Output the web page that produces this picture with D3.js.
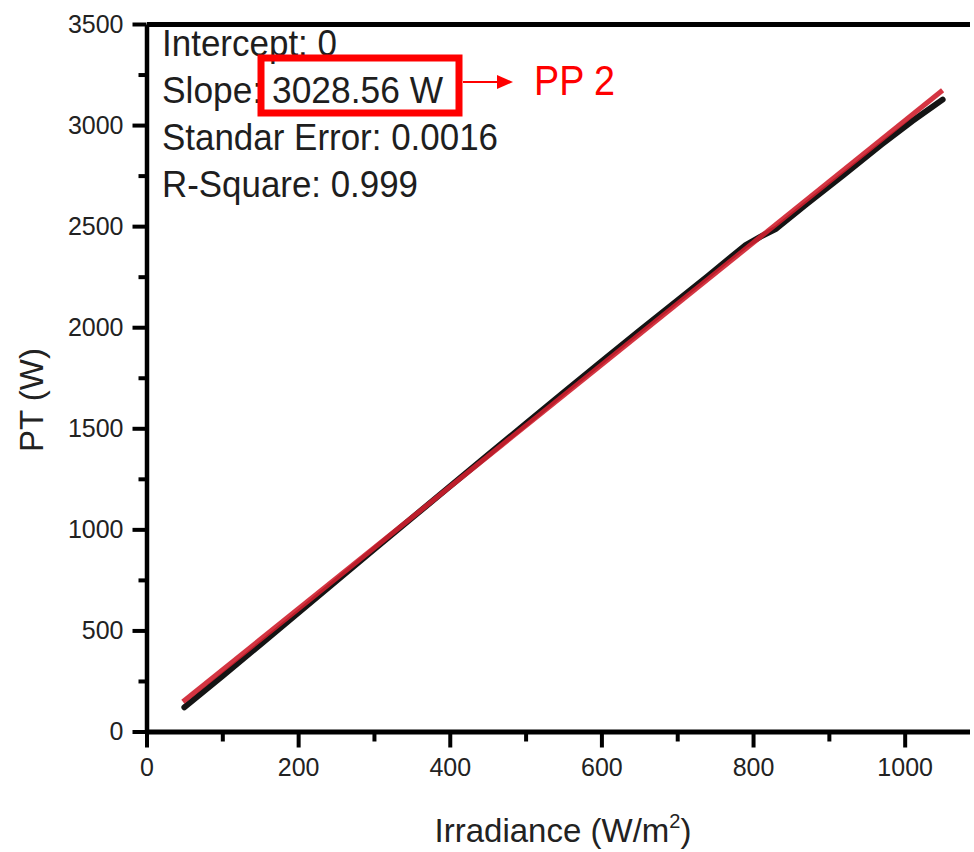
<!DOCTYPE html>
<html>
<head>
<meta charset="utf-8">
<script src="https://cdn.jsdelivr.net/npm/d3@7"></script>
<style>
  html, body { margin: 0; padding: 0; background: #fff; }
  svg { display: block; }
  text { font-family: "Liberation Sans", Arial, sans-serif; }
</style>
</head>
<body>
<script>
// ---- data ----
const irradiance = [50, 100, 150, 200, 250, 300, 350, 400, 450, 500, 550, 600, 650, 700, 740, 770, 790, 810, 830, 870, 920, 970, 1010, 1050];
const powerPT    = [120, 274, 430, 586, 743, 900, 1056, 1212, 1367, 1522, 1677, 1830, 1982, 2132, 2252, 2345, 2405, 2448, 2486, 2608, 2755, 2905, 3020, 3126];
const fitIrradiance = [48, 1050];
const fitPT         = [147, 3172];
const xMajorTicks = [0, 200, 400, 600, 800, 1000];
const xMinorTicks = [100, 300, 500, 700, 900];
const yMajorTicks = [0, 500, 1000, 1500, 2000, 2500, 3000, 3500];
const yMinorTicks = [250, 750, 1250, 1750, 2250, 2750, 3250];
const statLabels = ["Intercept: 0", "Slope: 3028.56 W", "Standar Error: 0.0016", "R-Square: 0.999"];
const calloutLabel = "PP 2";

const W = 974, H = 852;
const svg = d3.select("body").append("svg").attr("width", 970).attr("height", H);

const x = d3.scaleLinear().domain([0, 1100]).range([146.5, 980.5]);
const y = d3.scaleLinear().domain([0, 3500]).range([731.5, 24]);

// data line (black) and fit line (red)
const line = d3.line().x(d => x(d[0])).y(d => y(d[1]));
svg.append("path")
  .datum(irradiance.map((v, i) => [v, powerPT[i]]))
  .attr("d", line).attr("fill", "none")
  .attr("stroke", "#141414").attr("stroke-width", 6).attr("stroke-linecap", "round");
svg.append("path")
  .datum(fitIrradiance.map((v, i) => [v, fitPT[i]]))
  .attr("d", line).attr("fill", "none")
  .attr("stroke", "#cf1f2d").attr("stroke-width", 5).attr("stroke-opacity", 0.9);

// axes
const axisFont = 25;
function styleAxis(g) {
  g.selectAll(".tick line").attr("stroke", "#000").attr("stroke-width", 4);
  g.selectAll(".tick text").attr("fill", "#222").attr("font-size", axisFont)
    .attr("font-family", "'Liberation Sans', Arial, sans-serif");
}
// x axis
svg.append("g").attr("transform", `translate(0,${y(0)})`)
  .call(d3.axisBottom(x).tickValues(xMinorTicks).tickSize(10).tickFormat(""))
  .call(g => g.select(".domain").remove()).call(styleAxis);
svg.append("g").attr("transform", `translate(0,${y(0)})`)
  .call(d3.axisBottom(x).tickValues(xMajorTicks).tickSize(16).tickPadding(11).tickSizeOuter(0).tickFormat(d3.format("d")))
  .call(g => g.select(".domain").attr("stroke", "#000").attr("stroke-width", 5))
  .call(styleAxis);
// top frame line
svg.append("g").attr("transform", `translate(0,${y(3500)})`)
  .call(d3.axisTop(x).tickValues([]).tickSizeOuter(0))
  .call(g => g.select(".domain").attr("stroke", "#000").attr("stroke-width", 5));
// y axis
svg.append("g").attr("transform", `translate(${x(0)},0)`)
  .call(d3.axisLeft(y).tickValues(yMinorTicks).tickSize(8).tickFormat(""))
  .call(g => g.select(".domain").remove()).call(styleAxis);
svg.append("g").attr("transform", `translate(${x(0)},0)`)
  .call(d3.axisLeft(y).tickValues(yMajorTicks).tickSize(14).tickPadding(9).tickSizeOuter(0).tickFormat(d3.format("d")))
  .call(g => g.select(".domain").attr("stroke", "#000").attr("stroke-width", 4.5))
  .call(styleAxis);

// axis titles
const xt = svg.append("text").attr("x", 563).attr("y", 842).attr("text-anchor", "middle")
  .attr("font-size", 33).attr("fill", "#222");
xt.append("tspan").text("Irradiance (W/m");
xt.append("tspan").attr("font-size", 20).attr("dy", -14).text("2");
xt.append("tspan").attr("dy", 14).text(")");

svg.append("text").attr("transform", "translate(43,400) rotate(-90)")
  .attr("text-anchor", "middle").attr("font-size", 33).attr("fill", "#222").text("PT (W)");

// statistics text
const statLens = [175, 281, 336, 256];
svg.append("g").selectAll("text").data(statLabels).join("text")
  .attr("x", 162).attr("y", (d, i) => 56 + i * 47)
  .attr("font-size", 36).attr("fill", "#1e1e1e")
  .attr("textLength", (d, i) => statLens[i]).attr("lengthAdjust", "spacingAndGlyphs")
  .text(d => d);

// callout box, arrow and label
svg.append("rect").attr("x", 261).attr("y", 58).attr("width", 198).attr("height", 55)
  .attr("fill", "none").attr("stroke", "#ff0000").attr("stroke-width", 7);
svg.append("line").attr("x1", 463).attr("y1", 82).attr("x2", 500).attr("y2", 82)
  .attr("stroke", "#ff0000").attr("stroke-width", 2);
svg.append("path").attr("d", "M497,75 L513,82 L497,89 Z").attr("fill", "#ff0000");
svg.append("text").attr("x", 534).attr("y", 95).attr("font-size", 42).attr("fill", "#ff0000")
  .attr("textLength", 81).attr("lengthAdjust", "spacingAndGlyphs")
  .attr("font-family", "'Open Sans', 'Liberation Sans', sans-serif").text(calloutLabel);
</script>
</body>
</html>
